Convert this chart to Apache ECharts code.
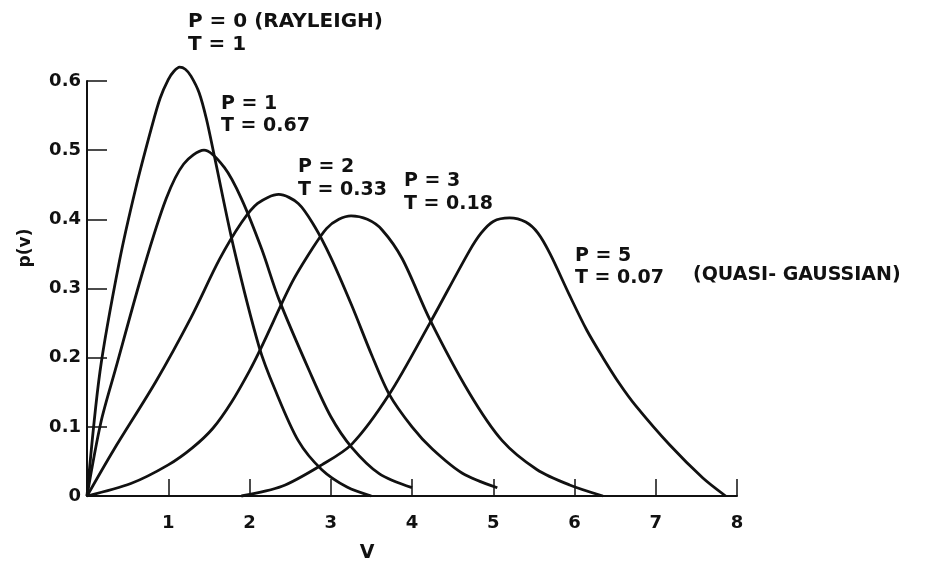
<!DOCTYPE html>
<html>
<head>
<meta charset="utf-8">
<script src="https://cdn.jsdelivr.net/npm/echarts@6/dist/echarts.min.js"></script>
<style>
  html, body { margin: 0; padding: 0; background: #fff; }
  #chart { width: 928px; height: 570px; }
</style>
</head>
<body>
<div id="chart"></div>
<script>
// [v, p(v)]
const p0Rayleigh = [
  [0, 0], [0.16, 0.18], [0.4, 0.34], [0.6, 0.445], [0.8, 0.535], [0.9, 0.575],
  [1.0, 0.602], [1.07, 0.614], [1.14, 0.62], [1.21, 0.617], [1.28, 0.607],
  [1.38, 0.583], [1.47, 0.545], [1.57, 0.49], [1.81, 0.357], [2.12, 0.215],
  [2.31, 0.155], [2.6, 0.08], [2.89, 0.038], [3.2, 0.013], [3.5, 0]
]
const p1Curve = [
  [0, 0], [0.17, 0.106], [0.35, 0.183], [0.7, 0.33], [0.975, 0.43], [1.19, 0.48],
  [1.44, 0.50], [1.69, 0.475], [1.9, 0.43], [2.15, 0.357], [2.36, 0.285],
  [2.74, 0.18], [3.0, 0.115], [3.26, 0.07], [3.6, 0.032], [4.0, 0.012]
]
const p2Curve = [
  [0, 0], [0.33, 0.067], [0.85, 0.166], [1.28, 0.258], [1.63, 0.342], [1.9, 0.395],
  [2.1, 0.423], [2.36, 0.436], [2.6, 0.423], [2.8, 0.39], [3.0, 0.345],
  [3.26, 0.275], [3.5, 0.205], [3.72, 0.147], [4.0, 0.10], [4.25, 0.068],
  [4.62, 0.033], [5.05, 0.012]
]
const p3Curve = [
  [0, 0], [0.54, 0.018], [1.0, 0.045], [1.3, 0.07], [1.55, 0.098], [1.78, 0.136],
  [2.0, 0.181], [2.15, 0.216], [2.52, 0.308], [2.77, 0.357], [2.95, 0.387],
  [3.1, 0.4], [3.25, 0.405], [3.45, 0.4], [3.63, 0.385], [3.88, 0.343],
  [4.22, 0.255], [4.7, 0.15], [5.11, 0.08], [5.54, 0.038], [5.94, 0.016], [6.35, 0]
]
const p5Curve = [
  [1.9, 0], [2.4, 0.014], [2.89, 0.045], [3.26, 0.075], [3.72, 0.147], [4.22, 0.25],
  [4.7, 0.353], [4.85, 0.38], [5.0, 0.397], [5.2, 0.402], [5.4, 0.396], [5.55, 0.38],
  [5.7, 0.35], [5.94, 0.29], [6.15, 0.24], [6.35, 0.2], [6.55, 0.163], [6.75, 0.131],
  [7.17, 0.074], [7.58, 0.026], [7.86, 0]
]
const curves = [p0Rayleigh, p1Curve, p2Curve, p3Curve, p5Curve]

const xTicks = ['', '1', '2', '3', '4', '5', '6', '7', '8']
const yTicks = ['0', '0.1', '0.2', '0.3', '0.4', '0.5', '0.6']

// curve labels: [text, x, y, size]
const notes = [
  ['P = 0 (RAYLEIGH)', 188, 22, 20], ['T = 1', 188, 45, 20],
  ['P = 1', 221, 104, 19], ['T = 0.67', 221, 126, 19],
  ['P = 2', 298, 167, 19], ['T = 0.33', 298, 190, 19],
  ['P = 3', 404, 181, 19], ['T = 0.18', 404, 204, 19],
  ['P = 5', 575, 256, 19], ['T = 0.07', 575, 278, 19],
  ['(QUASI- GAUSSIAN)', 693, 275, 19]
]

const FONT = '"DejaVu Sans", sans-serif'
const INK = '#111'

const chart = echarts.init(document.getElementById('chart'))
chart.setOption({
  backgroundColor: '#fff',
  animation: false,
  grid: { left: 87, right: 191, top: 81, bottom: 74 },
  xAxis: {
    type: 'value', min: 0, max: 8, interval: 1,
    axisLine: { lineStyle: { color: INK, width: 2 } },
    axisTick: { inside: true, length: 17, lineStyle: { color: INK, width: 1.5 } },
    axisLabel: {
      margin: 18, color: INK, fontFamily: FONT, fontWeight: 'bold', fontSize: 18,
      formatter: v => xTicks[Math.round(v)] ?? ''
    },
    splitLine: { show: false }
  },
  yAxis: {
    type: 'value', min: 0, max: 0.6, interval: 0.1,
    axisLine: { show: true, lineStyle: { color: INK, width: 2 } },
    axisTick: { show: true, inside: true, length: 20, lineStyle: { color: INK, width: 1.5 } },
    axisLabel: {
      margin: 6, color: INK, fontFamily: FONT, fontWeight: 'bold', fontSize: 18,
      formatter: v => yTicks[Math.round(v * 10)] ?? ''
    },
    splitLine: { show: false }
  },
  series: curves.map(c => ({
    type: 'line',
    data: c,
    smooth: 0.3,
    clip: false,
    symbol: 'none',
    lineStyle: { color: INK, width: 2.8 }
  })),
  graphic: [
    ...notes.map(([t, x, y, s]) => ({
      type: 'text', x, y,
      style: { text: t, fill: INK, font: `bold ${s}px ${FONT}`, textVerticalAlign: 'middle' }
    })),
    {
      type: 'text', x: 367, y: 553,
      style: { text: 'V', fill: INK, font: `bold 19px ${FONT}`, textAlign: 'center', textVerticalAlign: 'middle' }
    },
    {
      type: 'text', x: 26, y: 248, rotation: Math.PI / 2,
      style: { text: 'p(v)', fill: INK, font: `bold 17px ${FONT}`, textAlign: 'center', textVerticalAlign: 'middle' }
    }
  ]
})
</script>
</body>
</html>
